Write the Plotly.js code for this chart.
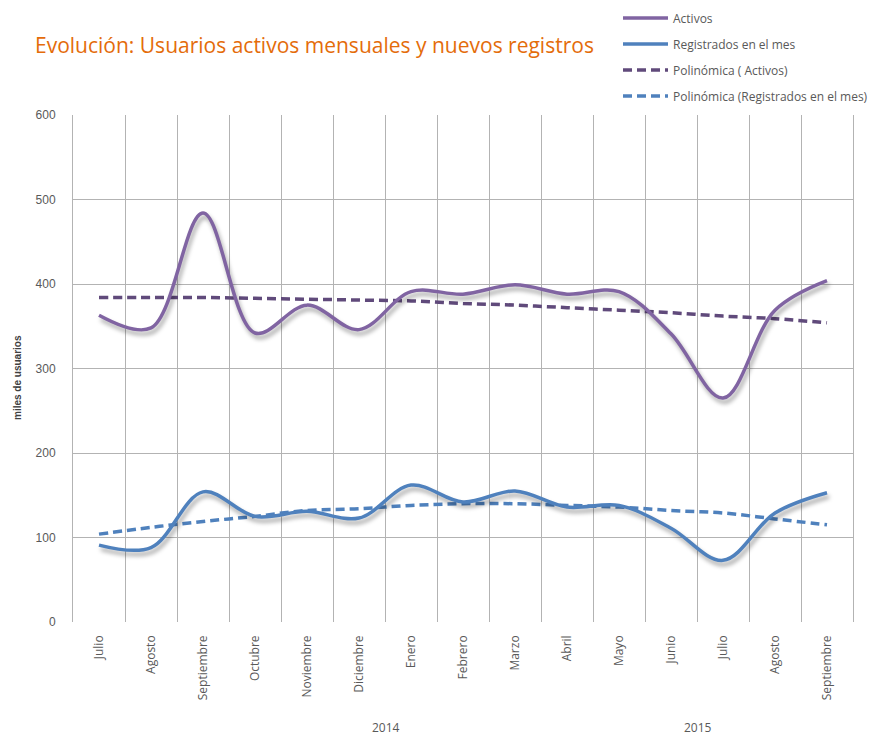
<!DOCTYPE html>
<html>
<head>
<meta charset="utf-8">
<script src="https://cdn.plot.ly/plotly-3.0.1.min.js"></script>
<style>
  html, body { margin: 0; padding: 0; background: #fff; }
  #chart { width: 888px; height: 736px; }
  .scatterlayer .trace:nth-child(n+3) .js-line {
    filter: drop-shadow(2px 4px 2px rgba(0,0,0,0.35));
  }
</style>
</head>
<body>
<div id="chart"></div>
<script>
// Categories (months Jul 2014 – Sep 2015)
const months = ['Julio','Agosto','Septiembre','Octubre','Noviembre','Diciembre','Enero','Febrero','Marzo','Abril','Mayo','Junio','Julio','Agosto','Septiembre'];
const years = ['2014', '2015'];

// Series values (miles de usuarios)
const activos = [363, 348, 484, 342, 375, 346, 391, 388, 399, 388, 391, 341, 265, 369, 404];
const registrados = [91, 88, 154, 125, 131, 123, 162, 142, 155, 136, 138, 111, 73, 129, 153];

// Polynomial trend lines, read at each month
const polyActivos = [384, 384, 384, 383, 382, 381, 380, 377, 375, 372, 369, 366, 362, 359, 354];
const polyRegistrados = [104, 112, 119, 125, 132, 134, 138, 140, 140, 138, 136, 132, 129, 122, 115];

const seriesNames = ['Activos', 'Registrados en el mes', 'Polinómica ( Activos)', 'Polinómica (Registrados en el mes)'];
const yTicks = [0, 100, 200, 300, 400, 500, 600];

const idx = months.map((m, i) => i);

const purple = '#8064A2';
const darkPurple = '#604A7B';
const blue = '#4F81BD';

const traces = [
  { x: idx, y: polyActivos, name: seriesNames[2], type: 'scatter', mode: 'lines',
    line: { color: darkPurple, width: 3.5, dash: '9px,5px', shape: 'spline', smoothing: 1 },
    legend: 'legend3', hoverinfo: 'skip' },
  { x: idx, y: polyRegistrados, name: seriesNames[3], type: 'scatter', mode: 'lines',
    line: { color: blue, width: 3.5, dash: '9px,5px', shape: 'spline', smoothing: 1 },
    legend: 'legend4', hoverinfo: 'skip' },
  { x: idx, y: activos, name: seriesNames[0], type: 'scatter', mode: 'lines',
    line: { color: purple, width: 3.5, shape: 'spline', smoothing: 1 },
    legend: 'legend' },
  { x: idx, y: registrados, name: seriesNames[1], type: 'scatter', mode: 'lines',
    line: { color: blue, width: 3.5, shape: 'spline', smoothing: 1 },
    legend: 'legend2' }
];

const legFont = { family: 'Open Sans, sans-serif', size: 12, color: '#595959' };
function leg(p) {
  return { x: 618 / 888, xref: 'container', y: 1 - p / 736, yref: 'container',
           xanchor: 'left', yanchor: 'middle', font: legFont,
           bgcolor: 'rgba(0,0,0,0)', borderwidth: 0, itemwidth: 45 };
}
// pixel center -> paper y  (plot top 115, bottom 622)
function py(p) { return (622 - p) / 507; }

const layout = {
  width: 888, height: 736,
  margin: { l: 73, r: 35, t: 115, b: 114, autoexpand: false },
  paper_bgcolor: '#fff', plot_bgcolor: '#fff',
  title: {
    text: 'Evolución: Usuarios activos mensuales y nuevos registros',
    font: { family: 'Open Sans, sans-serif', size: 21, color: '#E46C0A' },
    x: 35 / 888, xanchor: 'left', xref: 'container',
    y: 1 - 46 / 736, yanchor: 'middle', yref: 'container'
  },
  showlegend: true,
  legend: leg(18),
  legend2: leg(44),
  legend3: leg(70),
  legend4: leg(96),
  xaxis: {
    type: 'linear', range: [-0.5, 14.5],
    tickmode: 'array', tickvals: idx, ticktext: months, tickangle: -90,
    ticks: '', ticklabelstandoff: 10,
    tickfont: { family: 'Open Sans, sans-serif', size: 12, color: '#595959' },
    showgrid: false, zeroline: false, showline: false,
    minor: { tick0: 0.5, dtick: 1, showgrid: true, gridcolor: '#b3b3b3', gridwidth: 1, ticks: '' },
    fixedrange: true
  },
  yaxis: {
    range: [0, 600], tickmode: 'array', tickvals: yTicks, ticktext: yTicks.map(String),
    ticks: '', ticklabelstandoff: 14,
    tickfont: { family: 'Liberation Sans, Arial, sans-serif', size: 12, color: '#595959' },
    showgrid: true, gridcolor: '#b3b3b3', gridwidth: 1, zeroline: false,
    showline: true, linecolor: '#b3b3b3', linewidth: 1, mirror: true,
    fixedrange: true
  },
  annotations: [
    { text: 'miles de usuarios', xref: 'paper', yref: 'paper', x: (17 - 73) / 780, y: py(378),
      textangle: -90, showarrow: false, xanchor: 'center', yanchor: 'middle',
      font: { family: 'Liberation Sans, Arial, sans-serif', size: 10, color: '#404040', weight: 'bold' } },
    { text: years[0], xref: 'paper', yref: 'paper', x: (386 - 73) / 780, y: py(727),
      showarrow: false, xanchor: 'center', yanchor: 'middle',
      font: { family: 'Open Sans, sans-serif', size: 12, color: '#595959' } },
    { text: years[1], xref: 'paper', yref: 'paper', x: (698 - 73) / 780, y: py(727),
      showarrow: false, xanchor: 'center', yanchor: 'middle',
      font: { family: 'Open Sans, sans-serif', size: 12, color: '#595959' } }
  ],
  shapes: [
    { type: 'line', xref: 'paper', yref: 'paper', x0: 0.002, x1: 0.998, y0: 0, y1: 0,
      line: { color: '#ffffff', width: 2 }, layer: 'between' }
  ]
};

Plotly.newPlot('chart', traces, layout, { staticPlot: true, displayModeBar: false });
</script>
</body>
</html>
